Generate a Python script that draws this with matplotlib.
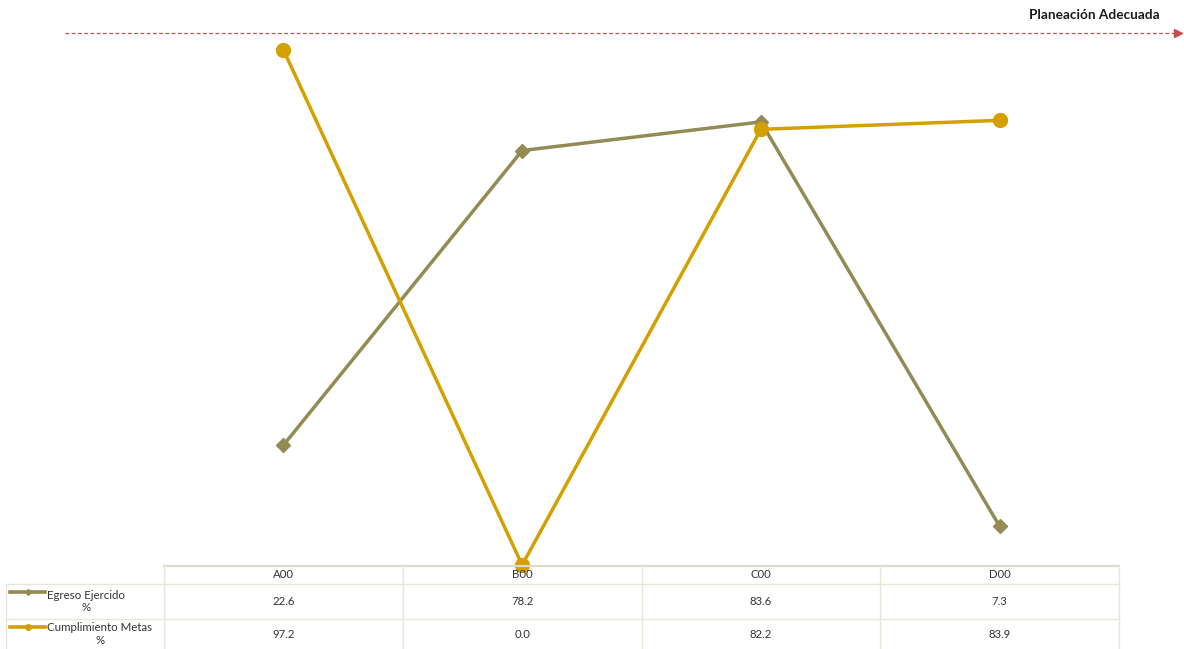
import matplotlib.pyplot as plt
from matplotlib.lines import Line2D
import matplotlib.transforms as mtransforms

plt.rcParams['font.family'] = ['Lato', 'DejaVu Sans']

# datos
categorias = ['A00', 'B00', 'C00', 'D00']
egreso = [22.6, 78.2, 83.6, 7.3]
cumplimiento = [97.2, 0.0, 82.2, 83.9]
series = ['Egreso Ejercido\n%', 'Cumplimiento Metas\n%']
meta = 100

col_egreso = '#948a54'
col_cumpl = '#d4a000'
col_borde = '#e8e6da'

W, H = 1184, 649
fig = plt.figure(figsize=(W / 100, H / 100), dpi=100)
ax = fig.add_axes([164 / W, (H - 565) / H, (1119 - 164) / W, 530 / H])
ax.set_xlim(-0.5, len(categorias) - 0.5)
ax.set_ylim(0, 100)
ax.axis('off')

x = range(len(categorias))
ax.plot(x, egreso, color=col_egreso, lw=2.5, marker='D', ms=7, clip_on=False, zorder=3)
ax.plot(x, cumplimiento, color=col_cumpl, lw=2.5, marker='o', ms=10, clip_on=False, zorder=4)

# linea de referencia (flecha punteada)
fig.add_artist(Line2D([65 / W, 1176 / W], [(H - 33) / H] * 2, color='#c0504d',
                      lw=0.9, ls=(0, (3, 2))))
fig.add_artist(Line2D([1178 / W], [(H - 33) / H], marker='>', color='#c0504d', ms=6,
                      lw=0))
fig.text(1160 / W, (H - 15) / H, 'Planeación Adecuada', ha='right', va='center',
         fontsize=9.8, fontweight='bold', color='#1a1a1a')

# tabla de datos
tr = mtransforms.blended_transform_factory(ax.transData, fig.transFigure)
y_top, y_h, y_r1, y_bot = 566, 584, 619, 649
fy = lambda p: (H - p) / H

fig.add_artist(Line2D([164 / W, 1119 / W], [fy(y_top)] * 2, color='#dddbd0', lw=1.6))
for yy in (y_h, y_r1):
    fig.add_artist(Line2D([6 / W, 1119 / W], [fy(yy)] * 2, color=col_borde, lw=1))
for i in range(len(categorias) + 1):
    fig.add_artist(Line2D([i - 0.5] * 2, [fy(y_top), fy(y_bot)], color=col_borde, lw=1,
                          transform=tr))
fig.add_artist(Line2D([6 / W] * 2, [fy(y_h), fy(y_bot)], color=col_borde, lw=1))

for i, c in enumerate(categorias):
    fig.text(i, fy((y_top + y_h) / 2), c, transform=tr, ha='center', va='center',
             fontsize=8.2, color='#333333')
    fig.text(i, fy((y_h + y_r1) / 2), f'{egreso[i]:.1f}', transform=tr, ha='center',
             va='center', fontsize=8.2, color='#333333')
    fig.text(i, fy((y_r1 + y_bot) / 2), f'{cumplimiento[i]:.1f}', transform=tr,
             ha='center', va='center', fontsize=8.2, color='#333333')

for (y0, y1), lab, col, mk, ms in [((y_h, y_r1), series[0], col_egreso, 'D', 3),
                                   ((y_r1, y_bot), series[1], col_cumpl, 'o', 4)]:
    yl = fy(y0 + 8)
    fig.add_artist(Line2D([10 / W, 45 / W], [yl, yl], color=col, lw=2.6))
    fig.add_artist(Line2D([27.5 / W], [yl], color=col, marker=mk, ms=ms, lw=0))
    fig.text(47 / W, fy((y0 + y1) / 2), lab, ha='left', va='center', fontsize=8.3,
             multialignment='center', color='#333333', linespacing=1.2)

fig.savefig('out.png', dpi=100)
